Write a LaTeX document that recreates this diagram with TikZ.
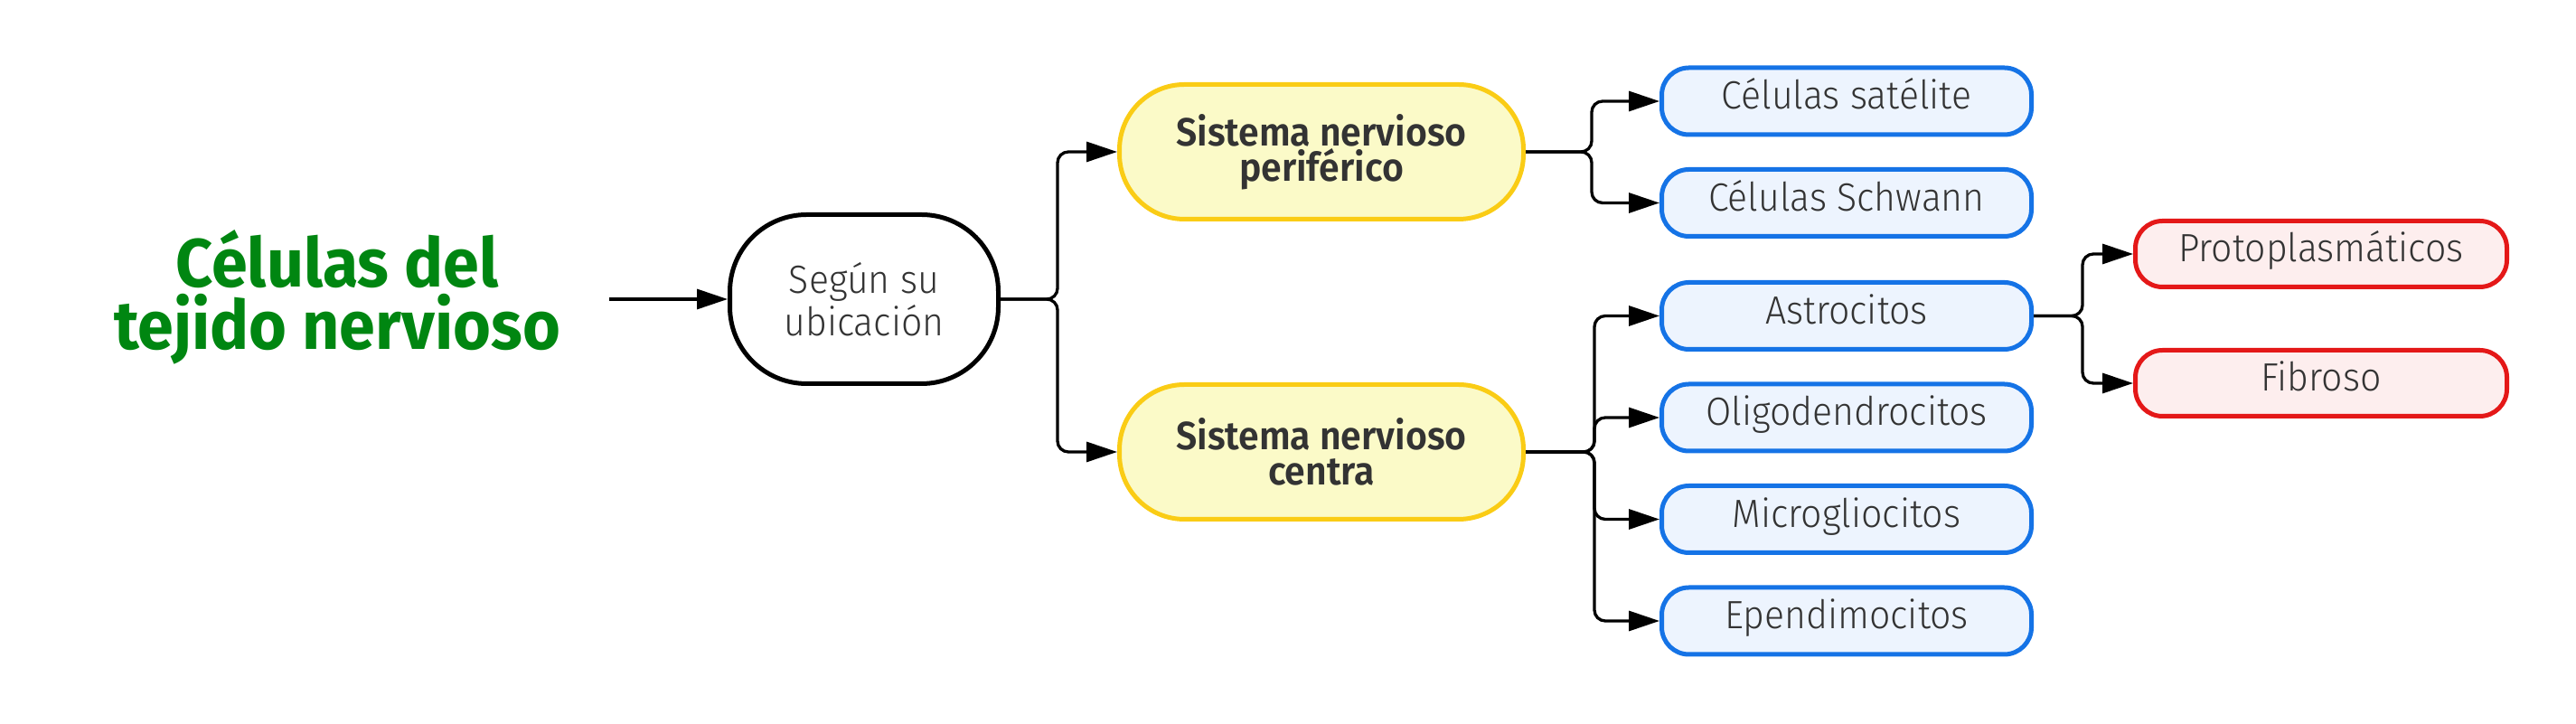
\documentclass[tikz,border=0pt]{standalone}
\usepackage{fontspec}
\setmainfont{Fira Sans Light}[BoldFont={Fira Sans SemiBold},FakeStretch=0.94]
\newfontfamily\titlefont{Fira Sans Bold}[FakeStretch=0.95]
\usetikzlibrary{arrows.meta}

\definecolor{titlegreen}{RGB}{0,134,17}
\definecolor{labelgray}{RGB}{51,51,51}
\definecolor{sysline}{RGB}{250,204,21}
\definecolor{sysfill}{RGB}{251,250,200}
\definecolor{cellline}{RGB}{21,115,230}
\definecolor{cellfill}{RGB}{237,244,254}
\definecolor{typeline}{RGB}{228,24,24}
\definecolor{typefill}{RGB}{253,238,238}

\tikzset{
link/.style={-{Triangle[length=0.34cm,width=0.22cm]},line width=0.033cm,rounded corners=0.12cm},
titletext/.style={text=titlegreen,align=center,font=\titlefont\fontsize{21.5}{19.6}\selectfont},
ubicbox/.style={draw=black,fill=white,line width=0.05cm,rounded corners=0.85cm,minimum width=2.97cm,minimum height=1.87cm,inner sep=0pt,align=center,text=labelgray,font=\fontsize{12.4}{11}\selectfont},
sysbox/.style={draw=sysline,fill=sysfill,line width=0.05cm,rounded corners=0.72cm,minimum width=4.47cm,minimum height=1.49cm,inner sep=0pt,align=center,text=labelgray,font=\bfseries\fontsize{12.4}{11}\selectfont},
cellbox/.style={draw=cellline,fill=cellfill,line width=0.05cm,rounded corners=0.3cm,minimum width=4.09cm,minimum height=0.74cm,inner sep=0pt,text height=0.75em,text depth=0.25em,text=labelgray,font=\fontsize{12.4}{11}\selectfont},
typebox/.style={cellbox,draw=typeline,fill=typefill,minimum width=4.11cm,minimum height=0.73cm}
}

\begin{document}
\begin{tikzpicture}
\useasboundingbox (0,0) rectangle (28.5,-8.01);

%Title and first level
\node[titletext] (title) at (3.73,-3.29) {Células del\\tejido nervioso};
\coordinate (start) at (6.74,-3.31);
\node[ubicbox] (ubic) at (9.56,-3.31) {Según su\\ubicación};
\draw[link] (start) -- (ubic.west);

%Second level
\node[sysbox] (per) at (14.62,-1.68) {Sistema nervioso\\periférico}; \node[sysbox] (cen) at (14.62,-5.00) {Sistema nervioso\\centra};
\draw[link] (ubic.east) -- ++(0.63,0) |- (per.west); \draw[link] (ubic.east) -- ++(0.63,0) |- (cen.west);

%Cells
\node[cellbox] (sat) at (20.43,-1.12) {Células satélite}; \node[cellbox] (schw) at (20.43,-2.245) {Células Schwann};
\node[cellbox] (astro) at (20.43,-3.495) {Astrocitos}; \node[cellbox] (oligo) at (20.43,-4.62) {Oligodendrocitos};
\node[cellbox] (micro) at (20.43,-5.745) {Microgliocitos}; \node[cellbox] (epen) at (20.43,-6.87) {Ependimocitos};

\draw[link] (per.east) -- ++(0.73,0) |- (sat.west); \draw[link] (per.east) -- ++(0.73,0) |- (schw.west);
\draw[link] (cen.east) -- ++(0.76,0) |- (astro.west); \draw[link] (cen.east) -- ++(0.76,0) |- (oligo.west);
\draw[link] (cen.east) -- ++(0.76,0) |- (micro.west); \draw[link] (cen.east) -- ++(0.76,0) |- (epen.west);

%Astrocitos types
\node[typebox] (proto) at (25.68,-2.81) {Protoplasmáticos}; \node[typebox] (fibro) at (25.68,-4.24) {Fibroso};
\draw[link] (astro.east) -- ++(0.54,0) |- (proto.west); \draw[link] (astro.east) -- ++(0.54,0) |- (fibro.west);

\end{tikzpicture}
\end{document}
